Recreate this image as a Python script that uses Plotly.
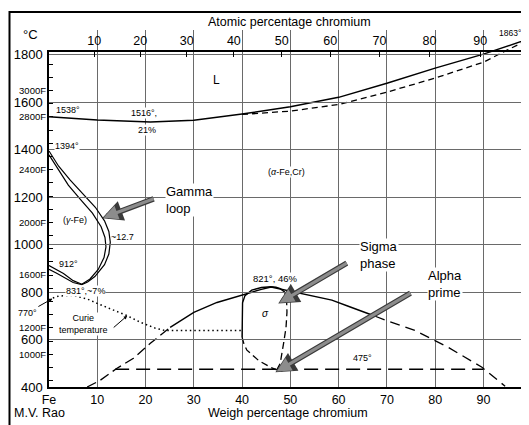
import plotly.graph_objects as go

# ---------------- data (wt% Cr, temperature °C) ----------------
liq_wt = [0, 10, 21, 30, 40, 50, 60, 70, 80, 90, 100]
liq_T = [1538, 1525, 1516, 1524, 1550, 1580, 1620, 1679, 1743, 1802, 1870]
sol_wt = [40, 50, 60, 70, 80, 90, 95, 100]
sol_T = [1548, 1562, 1590, 1642, 1701, 1768, 1820, 1870]

gam_out_wt = [0, 2, 4.4, 7, 9.6, 11.5, 12.4, 12.7, 12.4, 11.5, 9.5, 8, 6.8, 5, 3, 1.5, 0]
gam_out_T = [1394, 1330, 1271, 1212, 1157, 1100, 1055, 1010, 960, 915, 865, 842, 831, 840, 864, 880, 896]
gam_in_wt = [0, 2, 4, 6.5, 9, 10.8, 11.6, 11.8, 11.4, 10.2, 8.5, 6.8, 5, 3, 1.5, 0]
gam_in_T = [1378, 1312, 1250, 1190, 1132, 1075, 1030, 990, 945, 895, 855, 833, 848, 878, 895, 912]

curie_wt = [0.8, 2, 5, 8, 10, 13, 16, 19, 22, 24, 30, 35, 40]
curie_T = [775, 783, 786, 770, 752, 728, 702, 672, 648, 638, 638, 638, 638]

gap_l_wt = [7.9, 10.6, 14.1, 17.5, 21, 25.1]
gap_l_T = [400, 428, 479, 521, 584, 651]
gap_m_wt = [25.1, 30, 34.8, 39.6, 43.8, 46, 49, 51.6, 55, 58.6, 62, 67.6]
gap_m_T = [651, 714, 756, 786, 810, 821, 808, 794, 781, 766, 740, 698]
gap_r_wt = [67.6, 70, 75.8, 82.7, 89.7, 94.5]
gap_r_T = [698, 679, 638, 567, 483, 403]

sig_ls_wt = [46, 44, 42, 40.6, 40.1, 40, 40]
sig_ls_T = [822, 819, 808, 785, 755, 680, 610]
sig_ld_wt = [40, 40.4, 41, 43.4, 45.8, 47.2]
sig_ld_T = [610, 580, 555, 512, 484, 472]
sig_rd_wt = [47.2, 47.9, 48.6, 49.1, 49.3, 49.2]
sig_rd_T = [472, 500, 584, 650, 716, 779]
sig_rs_wt = [49.2, 48.8, 47.9, 47, 46]
sig_rs_T = [779, 800, 814, 820, 822]

line475_wt = [13.7, 90]
line475_T = [475, 475]

# axes ticks
wt_ticks = [0, 10, 20, 30, 40, 50, 60, 70, 80, 90]
wt_labels = ["Fe", "10", "20", "30", "40", "50", "60", "70", "80", "90"]
at_ticks = [10, 20, 30, 40, 50, 60, 70, 80, 90]
C_ticks = [400, 600, 800, 1000, 1200, 1400, 1600, 1800]
F_ticks = list(range(800, 3300, 100))
F_labelled = [3000, 2800, 2400, 2000, 1600, 1200, 1000]

M_FE, M_CR = 55.845, 51.996


def at_to_wt(a):
    return 100 * a * M_CR / (a * M_CR + (100 - a) * M_FE)


at_pos = [at_to_wt(a) for a in at_ticks]
F_pos = [(f - 32) * 5 / 9 for f in F_ticks]
F_text = [f"{f}F" if f in F_labelled else "" for f in F_ticks]

# ---------------- geometry (page body has an 8px margin) ----------------
OFF = 8
W, H = 529 - OFF, 425 - OFF
ML, MR, MT, MB = 49 - OFF, 0, 30 - OFF, 38
PW, PH = W - ML - MR, H - MT - MB
PX_PER_WT = 4.827
X_MAX = PW / PX_PER_WT
MAIN_TOP_PX = 52 - OFF
D = (H - MB - MAIN_TOP_PX) / PH
PX_PER_C = (H - MB - MAIN_TOP_PX) / 1411.0
Y_MAX = 400 + 1411.0
Y3_MAX = 400 + PH / PX_PER_C

FONT = "Liberation Sans, Arial, sans-serif"

fig = go.Figure()


def curve(x, y, dash="solid", width=1.4):
    fig.add_trace(go.Scatter(x=x, y=y, mode="lines", xaxis="x", yaxis="y3",
                             line=dict(color="black", width=width, dash=dash),
                             hoverinfo="skip", showlegend=False))


curve(liq_wt, liq_T, "solid", 1.5)
curve(sol_wt, sol_T, "6px,4px", 1.3)
curve(gam_out_wt, gam_out_T, "solid", 1.2)
curve(gam_in_wt, gam_in_T, "solid", 1.2)
curve(curie_wt, curie_T, "1.5px,3px", 1.5)
curve(gap_l_wt, gap_l_T, "10px,5px", 1.3)
curve(gap_m_wt, gap_m_T, "solid", 1.4)
curve(gap_r_wt, gap_r_T, "10px,6px", 1.3)
curve(sig_ls_wt, sig_ls_T, "solid", 1.4)
curve(sig_ld_wt, sig_ld_T, "7px,4px", 1.3)
curve(sig_rd_wt, sig_rd_T, "7px,4px", 1.3)
curve(sig_rs_wt, sig_rs_T, "solid", 1.4)
curve(line475_wt, line475_T, "14px,7px", 1.5)

# invisible traces so that the overlaying axes (top at%, left °F) get drawn
fig.add_trace(go.Scatter(x=[50], y=[1000], xaxis="x2", yaxis="y", mode="markers",
                         marker=dict(opacity=0), hoverinfo="skip", showlegend=False))
fig.add_trace(go.Scatter(x=[50], y=[1000], xaxis="x", yaxis="y2", mode="markers",
                         marker=dict(opacity=0), hoverinfo="skip", showlegend=False))

ann = []


def label(text, x, y, size=9, bg=False, xanchor="center", align="center", yref="y", xref="x"):
    ann.append(dict(text=text, x=x, y=y, xref=xref, yref=yref, showarrow=False,
                    xanchor=xanchor, yanchor="middle", align=align,
                    font=dict(size=size, color="black", family=FONT),
                    bgcolor="white" if bg else None, borderpad=0))


label("1538°", 4.0, 1566)
label("1516°,", 19.7, 1553, bg=True)
label("21%", 20.4, 1482, bg=True)
label("L", 34.7, 1692, size=12)
label("(<i>α</i>-Fe,Cr)", 49.3, 1304, bg=True)
label("(<i>γ</i>-Fe)", 5.4, 1102)
label("~12.7", 15.2, 1031)
label("1394°", 3.8, 1414, bg=True)
label("912°", 4.0, 916)
label("831°,~7%", 7.5, 804, bg=True)
label("Curie<br>temperature", 7.2, 666, bg=True)
label("821°, 46%", 46.9, 858, size=9.5, bg=True)
label("<i>σ</i>", 44.8, 710, size=10)
label("475°", 64.9, 521)
label("1863°", 95.5, 1890, size=8.5, yref="y3")
label("Gamma<br>loop", 24.1, 1187, size=13, bg=True, xanchor="left", align="left")
label("Sigma<br>phase", 64.3, 955, size=13, bg=True, xanchor="left", align="left")
label("Alpha<br>prime", 78.3, 832, size=13, bg=True, xanchor="left", align="left")


# paper-positioned texts (given in reference-picture pixels)
def px_x(px):
    return (px - OFF - ML) / PW


def px_y(py):
    return (H - MB - (py - OFF)) / PH


label("Atomic percentage chromium", px_x(289), px_y(22), size=12.5, xref="paper", yref="paper")
label("Weigh percentage chromium", px_x(288), px_y(413), size=12.5, xref="paper", yref="paper")
label("M.V. Rao", px_x(13), px_y(413), size=12.5, xref="paper", yref="paper", xanchor="left")
label("°C", px_x(30), px_y(35), size=13, xref="paper", yref="paper")
label("Cr", px_x(523), px_y(398), size=12.5, xref="paper", yref="paper", xanchor="left")

# small leader arrows
ann.append(dict(text="770°", x=0.7, y=772, xref="x", yref="y", ax=-25, ay=14,
                showarrow=True, arrowhead=2, arrowsize=0.7, arrowwidth=1, arrowcolor="black",
                font=dict(size=9, family=FONT, color="black")))
ann.append(dict(text="", x=16.2, y=700, xref="x", yref="y", ax=-15, ay=13,
                showarrow=True, arrowhead=2, arrowsize=0.7, arrowwidth=1, arrowcolor="black"))

# big gray arrows (tail -> tip)
arrows = [((22, 1195), (11, 1111)), ((62, 925), (47.5, 752)), ((75.2, 799), (46.9, 462))]
for (tx, ty), (hx, hy) in arrows:
    ann.append(dict(text="", x=hx, y=hy, ax=tx, ay=ty, xref="x", yref="y", axref="x", ayref="y",
                    showarrow=True, arrowhead=2, arrowsize=0.75, arrowwidth=5.5, arrowcolor="#3a3a3a"))
    ann.append(dict(text="", x=hx, y=hy, ax=tx, ay=ty, xref="x", yref="y", axref="x", ayref="y",
                    showarrow=True, arrowhead=2, arrowsize=0.9, arrowwidth=3.2, arrowcolor="#8c8c8c",
                    standoff=1.5))

frame = dict(type="rect", xref="paper", yref="paper", x0=px_x(9.5), x1=1.2, y0=-0.5, y1=px_y(12),
             line=dict(color="black", width=2), fillcolor="rgba(0,0,0,0)")

fig.update_layout(
    width=W, height=H, margin=dict(l=ML, r=MR, t=MT, b=MB, autoexpand=False),
    paper_bgcolor="white", plot_bgcolor="rgba(0,0,0,0)", showlegend=False,
    font=dict(family=FONT, color="black"),
    xaxis=dict(domain=[0, 1], range=[0, X_MAX], anchor="y", tickvals=wt_ticks, ticktext=wt_labels,
               ticks="", showgrid=True, gridcolor="#6a6a6a", gridwidth=1, zeroline=False,
               showline=True, linecolor="black", linewidth=1.5, tickfont=dict(size=12.5)),
    xaxis2=dict(overlaying="x", side="top", anchor="y", range=[0, X_MAX], tickvals=at_pos,
                ticktext=[str(a) for a in at_ticks], ticks="inside", ticklen=5, tickcolor="black",
                showgrid=False, zeroline=False, showline=True, linecolor="black", linewidth=1.5,
                tickfont=dict(size=12.5)),
    yaxis=dict(domain=[0, D], range=[400, Y_MAX], anchor="x", tickvals=C_ticks,
               ticktext=[str(c) for c in C_ticks], ticks="", showgrid=True, gridcolor="#6a6a6a",
               gridwidth=1, zeroline=False, showline=True, linecolor="black", linewidth=1.5,
               tickfont=dict(size=13), ticklabelstandoff=2),
    yaxis2=dict(overlaying="y", side="left", anchor="x", range=[400, Y_MAX], tickvals=F_pos,
                ticktext=F_text, ticks="inside", ticklen=4, tickcolor="black", showgrid=False,
                zeroline=False, showline=False, tickfont=dict(size=9.5), ticklabelstandoff=2),
    yaxis3=dict(domain=[0, 1], range=[400, Y3_MAX], anchor="x", visible=False),
    annotations=ann, shapes=[frame],
)

fig.write_html("out.html")
